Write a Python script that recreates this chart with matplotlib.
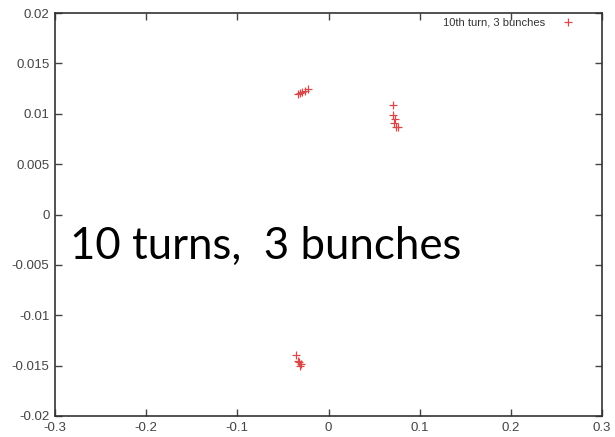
import matplotlib
matplotlib.use("Agg")
import matplotlib.pyplot as plt

# bunch centroids at the 10th turn
x_vals = [-0.034, -0.031, -0.029, -0.026, -0.023,
          0.071, 0.071, 0.073, 0.072, 0.074, 0.076,
          -0.036, -0.034, -0.032, -0.031, -0.030]
y_vals = [0.0120, 0.0121, 0.0122, 0.0123, 0.0125,
          0.0109, 0.0099, 0.0095, 0.0091, 0.0087, 0.0087,
          -0.0139, -0.0145, -0.0146, -0.0150, -0.0148]

x_ticks = [-0.3, -0.2, -0.1, 0, 0.1, 0.2, 0.3]
y_ticks = [-0.02, -0.015, -0.01, -0.005, 0, 0.005, 0.01, 0.015, 0.02]

plt.rcParams['font.family'] = ['Liberation Sans', 'DejaVu Sans']

fig = plt.figure(figsize=(6.15, 4.37), dpi=100)
ax = fig.add_axes([55 / 615, 1 - 416 / 437, 547 / 615, 403 / 437])

ax.plot(x_vals, y_vals, linestyle='none', marker='+', markersize=5.5,
        markeredgewidth=0.9, color='#d84848', label='10th turn, 3 bunches')

ax.set_xlim(-0.3, 0.3)
ax.set_ylim(-0.02, 0.02)
ax.set_xticks(x_ticks)
ax.set_xticklabels(['-0.3', '-0.2', '-0.1', '0', '0.1', '0.2', '0.3'])
ax.set_yticks(y_ticks)
ax.set_yticklabels(['-0.02', '-0.015', '-0.01', '-0.005', '0',
                    '0.005', '0.01', '0.015', '0.02'])
ax.tick_params(direction='in', length=5, width=1, top=True, right=True,
               labelsize=9.5, colors='#444444', pad=4)
for s in ax.spines.values():
    s.set_linewidth(1.2)
    s.set_color('#333333')

leg = ax.legend(loc='upper right', bbox_to_anchor=(0.9715, 1.0),
                frameon=False, fontsize=8, markerfirst=False,
                handlelength=2.5, handletextpad=0.8, borderaxespad=0)
for t in leg.get_texts():
    t.set_color('#333333')

ax.text(0.028, 0.39, '10 turns,  3 bunches', transform=ax.transAxes,
        fontsize=31.5, family=['Lato', 'DejaVu Sans'], color='black',
        va='baseline')

fig.savefig('out.png', dpi=100)
